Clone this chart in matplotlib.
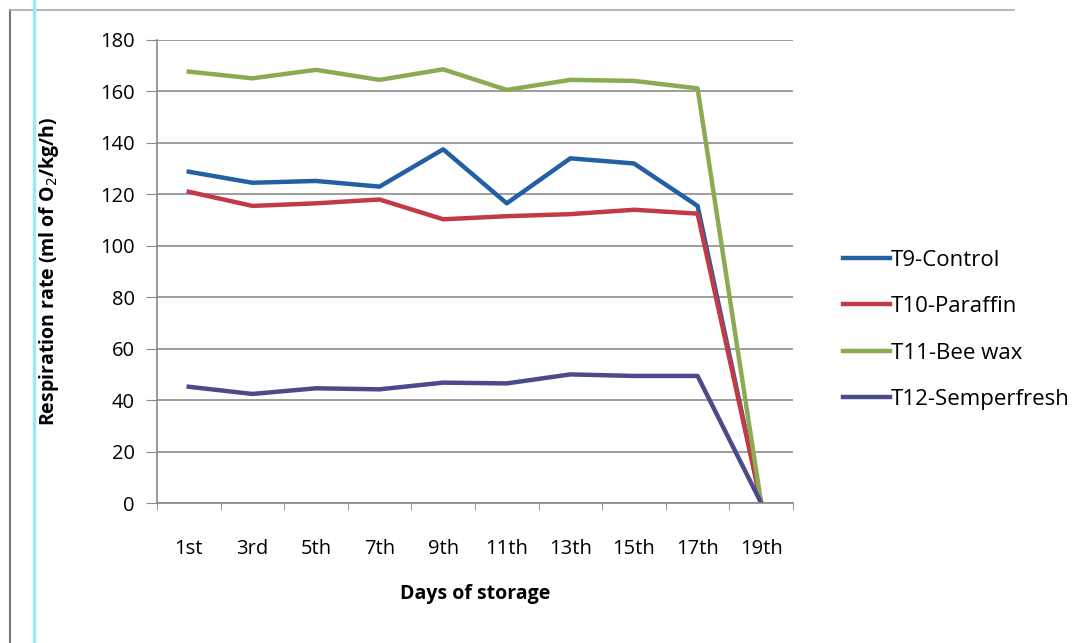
import matplotlib.pyplot as plt
import numpy as np
from matplotlib.lines import Line2D

plt.rcParams['font.family'] = ['Open Sans', 'DejaVu Sans']

days = ['1st', '3rd', '5th', '7th', '9th', '11th', '13th', '15th', '17th', '19th']
control = [128.8, 124.5, 125.2, 123.0, 137.5, 116.5, 134.0, 132.0, 115.5, 0]
paraffin = [121.0, 115.5, 116.5, 118.0, 110.3, 111.5, 112.3, 114.0, 112.5, 0]
bee_wax = [167.7, 165.1, 168.4, 164.5, 168.6, 160.6, 164.5, 164.1, 161.2, 0]
semperfresh = [45.2, 42.4, 44.6, 44.2, 46.8, 46.5, 50.0, 49.4, 49.4, 0]

series = [
    ('T9-Control', control, '#235FA3'),
    ('T10-Paraffin', paraffin, '#C23A45'),
    ('T11-Bee wax', bee_wax, '#8AAB52'),
    ('T12-Semperfresh', semperfresh, '#4C4A8C'),
]

fig = plt.figure(figsize=(10.9, 6.43), dpi=100)
ax = fig.add_axes([0.144, 0.2177, 0.5835, 0.7201])

x = np.arange(len(days))
for name, vals, col in series:
    ax.plot(x, vals, color=col, lw=3.2, label=name, solid_joinstyle='round')

ax.set_xlim(-0.5, len(days) - 0.5)
ax.set_ylim(0, 180)
ax.set_yticks(np.arange(0, 181, 20))
ax.set_xticks(x)
ax.set_xticklabels(days)
ax.set_xticks(np.arange(-0.5, len(days), 1), minor=True)
ax.tick_params(axis='x', which='major', length=0, pad=26, labelsize=14.5)
ax.tick_params(axis='x', which='minor', length=5, color='#888888', direction='out')
ax.tick_params(axis='y', length=8, color='#888888', labelsize=14.5, pad=8)

ax.grid(axis='y', color='#8c8c8c', lw=1.2)
ax.set_axisbelow(True)
for s in ['top', 'right']:
    ax.spines[s].set_visible(False)
for s in ['left', 'bottom']:
    ax.spines[s].set_color('#888888')
    ax.spines[s].set_linewidth(1.2)

ax.set_xlabel('Days of storage', fontsize=14, fontweight='bold', labelpad=18)
ax.set_ylabel('Respiration rate (ml of O$_2$/kg/h)', fontsize=14, fontweight='bold', labelpad=28)

handles = [Line2D([0], [0], color=c, lw=3.2) for _, _, c in series]
fig.legend(handles, [n for n, _, _ in series], loc='upper left',
           bbox_to_anchor=(0.755, 0.643), frameon=False, fontsize=16,
           handlelength=2.1, handletextpad=0.05, labelspacing=1.15)

# frame of the scanned picture
fig.add_artist(Line2D([0.009, 0.009], [0.0, 0.985], transform=fig.transFigure, color='#777777', lw=1.5))
fig.add_artist(Line2D([0.009, 0.93], [0.985, 0.985], transform=fig.transFigure, color='#aaaaaa', lw=1.2))
fig.add_artist(Line2D([0.031, 0.031], [0.0, 1.0], transform=fig.transFigure, color='#9fe8f0', lw=2.5))

fig.savefig('out.png', dpi=100)
